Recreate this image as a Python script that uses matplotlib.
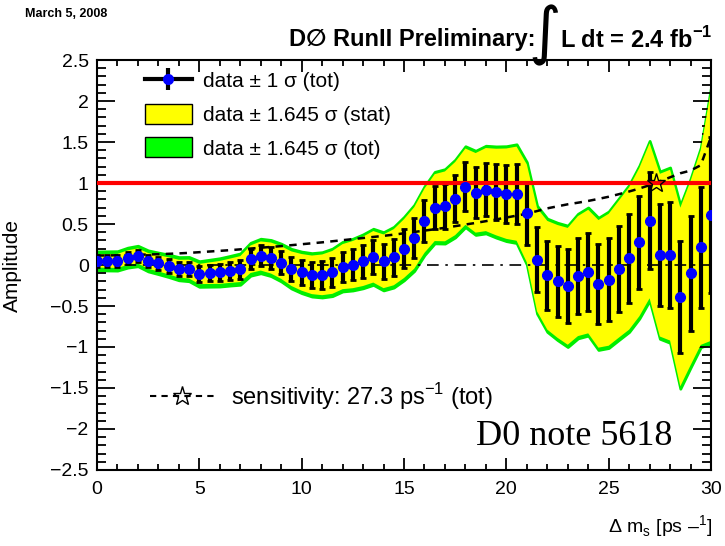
import numpy as np
import matplotlib.pyplot as plt
from matplotlib.lines import Line2D
from matplotlib.patches import Patch
from matplotlib.ticker import MultipleLocator, FuncFormatter

plt.rcParams['font.family'] = ['Liberation Sans', 'DejaVu Sans']
plt.rcParams['mathtext.fontset'] = 'custom'
plt.rcParams['mathtext.rm'] = 'Liberation Sans'
plt.rcParams['mathtext.bf'] = 'Liberation Sans:bold'

# amplitude scan points, Delta m_s in ps^-1 (0 .. 30 in steps of 0.5)
dms = np.linspace(0.0, 30.0, 61)

amplitude = [0.05, 0.05, 0.05, 0.09, 0.11, 0.05, 0.02, -0.01, -0.045, -0.05,
             -0.11, -0.10, -0.09, -0.07, -0.05, 0.07, 0.11, 0.085, 0.03, -0.045,
             -0.09, -0.12, -0.12, -0.09, -0.02, 0.005, 0.045, 0.10, 0.045, 0.095,
             0.20, 0.33, 0.54, 0.70, 0.715, 0.81, 0.955, 0.88, 0.92, 0.89,
             0.87, 0.87, 0.63, 0.065, -0.125, -0.20, -0.26, -0.135, -0.08, -0.23,
             -0.18, -0.05, 0.08, 0.28, 0.54, 0.12, 0.12, -0.39, -0.10, 0.215,
             0.605]

sigma_tot = [0.070, 0.071, 0.072, 0.074, 0.076, 0.078, 0.080, 0.083, 0.086, 0.090,
             0.095, 0.100, 0.105, 0.110, 0.116, 0.122, 0.128, 0.134, 0.140, 0.147,
             0.154, 0.161, 0.168, 0.176, 0.184, 0.192, 0.200, 0.208, 0.216, 0.225,
             0.235, 0.245, 0.255, 0.265, 0.276, 0.288, 0.300, 0.312, 0.325, 0.338,
             0.352, 0.366, 0.380, 0.400, 0.420, 0.435, 0.450, 0.462, 0.475, 0.490,
             0.506, 0.525, 0.545, 0.567, 0.592, 0.620, 0.650, 0.680, 0.700, 0.740,
             0.950]

sigma_stat = [0.050, 0.051, 0.052, 0.054, 0.056, 0.058, 0.060, 0.063, 0.066, 0.070,
              0.075, 0.080, 0.085, 0.090, 0.096, 0.102, 0.108, 0.115, 0.121, 0.128,
              0.136, 0.143, 0.151, 0.159, 0.167, 0.175, 0.183, 0.191, 0.199, 0.208,
              0.218, 0.228, 0.238, 0.248, 0.259, 0.271, 0.283, 0.295, 0.308, 0.321,
              0.335, 0.349, 0.363, 0.383, 0.403, 0.418, 0.433, 0.445, 0.458, 0.473,
              0.489, 0.508, 0.528, 0.550, 0.575, 0.603, 0.633, 0.662, 0.683, 0.723,
              0.930]

sensitivity = 27.3
cl_factor = 1.645

amp = np.array(amplitude)
s_tot = np.array(sigma_tot)
s_stat = np.array(sigma_stat)

fig = plt.figure(figsize=(7.25, 5.46), dpi=100)
ax = fig.add_axes([0.1338, 0.1392, 0.8469, 0.7509])

# 1.645 sigma bands
ax.fill_between(dms, amp - cl_factor * s_tot, amp + cl_factor * s_tot,
                facecolor='#00ee00', edgecolor='#00ee00', lw=2, zorder=1)
ax.fill_between(dms, amp - cl_factor * s_stat, amp + cl_factor * s_stat,
                facecolor='#ffff00', edgecolor='none', zorder=2)

ax.axhline(0.0, color='black', lw=1.2, ls=(0, (7, 4, 1.5, 4)), zorder=3)
ax.plot(dms, cl_factor * s_tot, color='black', lw=1.8, ls=(0, (3, 2.5)), zorder=3)

ax.errorbar(dms, amp, yerr=s_tot, fmt='none', ecolor='black', elinewidth=3,
            capsize=2.5, capthick=2, zorder=4)
ax.axhline(1.0, color='red', lw=3, zorder=4.5)
ax.plot(dms, amp, 'o', color='blue', ms=7, zorder=6)
ax.plot([sensitivity], [1.0], marker='*', ms=14, mfc='none', mec='black',
        mew=1, ls='none', zorder=7)

ax.set_xlim(0, 30)
ax.set_ylim(-2.5, 2.5)
ax.xaxis.set_major_locator(MultipleLocator(5))
ax.xaxis.set_minor_locator(MultipleLocator(1))
ax.yaxis.set_major_locator(MultipleLocator(0.5))
ax.yaxis.set_minor_locator(MultipleLocator(0.1))
fmt = FuncFormatter(lambda v, p: f'{round(v, 2) + 0:g}'.replace('-', '\u2212'))
ax.xaxis.set_major_formatter(fmt)
ax.yaxis.set_major_formatter(fmt)
ax.tick_params(axis='both', which='both', direction='in', top=True, right=True,
               width=1.3, labelsize=14)
ax.tick_params(axis='x', which='major', length=8.6, pad=8)
ax.tick_params(axis='x', which='minor', length=4.3)
ax.tick_params(axis='y', which='major', length=13, pad=6)
ax.tick_params(axis='y', which='minor', length=6.5)
for sp in ax.spines.values():
    sp.set_linewidth(1.5)

ax.set_ylabel('Amplitude', fontsize=15)
ax.yaxis.set_label_coords(-0.122, 0.5)

# legends
hline = Line2D([], [], color='black', lw=3)
vbar = Line2D([], [], color='black', ls='none', marker='|', ms=16, mew=3)
dot = Line2D([], [], ls='none', marker='o', color='blue', ms=7)
leg1 = ax.legend([(hline, vbar, dot),
                  Patch(facecolor='#ffff00', edgecolor='black', lw=1),
                  Patch(facecolor='#00ff00', edgecolor='black', lw=1)],
                 ['data \u00b1 1 \u03c3 (tot)',
                  'data \u00b1 1.645 \u03c3 (stat)',
                  'data \u00b1 1.645 \u03c3 (tot)'],
                 loc='upper left', bbox_to_anchor=(0.078, 0.975), frameon=False,
                 fontsize=15, handlelength=2.26, handleheight=1.1,
                 labelspacing=0.6, handletextpad=0.53, borderpad=0,
                 borderaxespad=0)
ax.add_artist(leg1)

sens_handle = Line2D([], [], color='black', lw=1.5, ls=(0, (3, 2.5)), marker='*',
                     ms=14, mfc='none', mec='black', mew=1)
ax.legend([sens_handle], [f'sensitivity: {sensitivity} ps$^{{-1}}$ (tot)'],
          loc='center left', bbox_to_anchor=(0.086, 0.18), frameon=False,
          fontsize=17, handlelength=2.75, handletextpad=0.68, borderpad=0,
          borderaxespad=0)

# header and annotations
fig.text(0.0345, 0.974, 'March 5, 2008', fontsize=9, fontweight='bold',
         ha='left', va='center')
fig.text(0.738, 0.927, 'D\u2205 RunII Preliminary:', fontsize=17,
         fontweight='bold', ha='right', va='center')
fig.text(0.752, 0.936, '\u222b', fontsize=45, family='DejaVu Sans',
         ha='center', va='center')
fig.text(0.982, 0.927, 'L dt = 2.4 fb$^{\\mathbf{-1}}$', fontsize=17,
         fontweight='bold', ha='right', va='center')
fig.text(0.927, 0.2, 'D0 note 5618', fontsize=26, family='Liberation Serif',
         ha='right', va='center')
fig.text(0.982, 0.035, '\u0394 m$_\\mathregular{s}$ [ps \u2013$^\\mathregular{1}$]',
         fontsize=14, ha='right', va='center')

fig.savefig('out.png', dpi=100)
